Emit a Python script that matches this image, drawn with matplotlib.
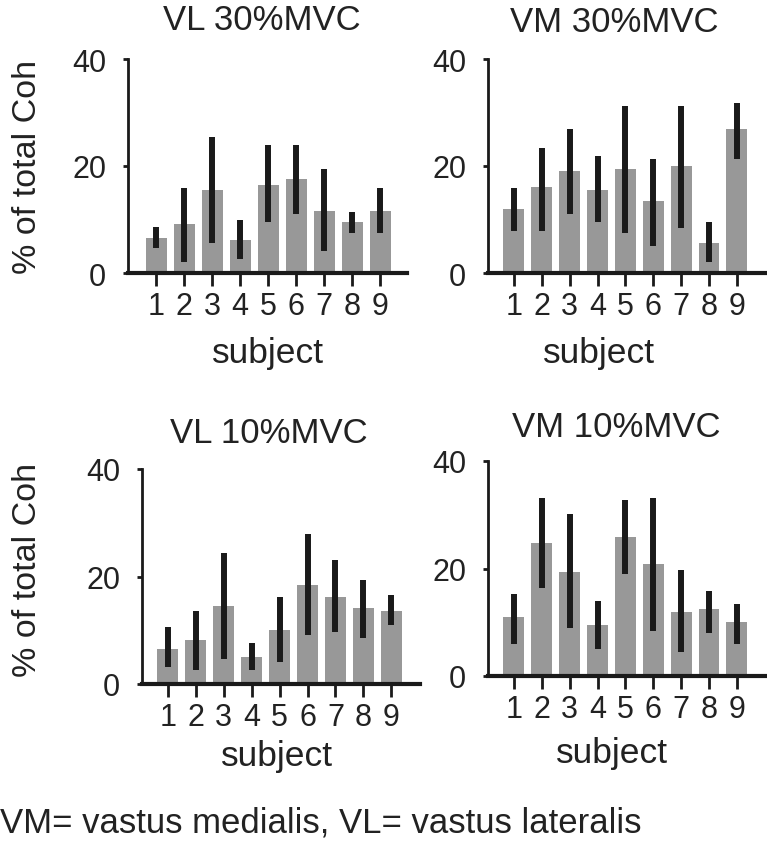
import numpy as np
import matplotlib.pyplot as plt

plt.rcParams['font.family'] = ['Liberation Sans', 'DejaVu Sans']

subjects = [1, 2, 3, 4, 5, 6, 7, 8, 9]

# bar heights and error bar ends (lo, hi)
vl30_mean = [6.6, 9.1, 15.5, 6.1, 16.5, 17.5, 11.5, 9.5, 11.5]
vl30_lo = [4.6, 2.1, 5.6, 2.6, 9.5, 11.1, 4.1, 7.5, 7.5]
vl30_hi = [8.6, 15.9, 25.4, 10.0, 23.9, 23.9, 19.4, 11.4, 15.9]

vm30_mean = [12.0, 16.0, 19.0, 15.5, 19.5, 13.5, 20.0, 5.6, 26.9]
vm30_lo = [7.9, 7.9, 11.1, 9.5, 7.5, 5.1, 8.5, 2.0, 21.4]
vm30_hi = [15.9, 23.4, 26.9, 21.9, 31.3, 21.4, 31.3, 9.5, 31.8]

vl10_mean = [6.6, 8.1, 14.6, 5.1, 10.1, 18.5, 16.1, 14.1, 13.6]
vl10_lo = [3.1, 2.6, 4.6, 2.6, 4.1, 9.1, 9.6, 8.6, 11.0]
vl10_hi = [10.6, 13.5, 24.4, 7.6, 16.1, 27.9, 23.0, 19.4, 16.5]

vm10_mean = [11.0, 24.8, 19.3, 9.5, 25.8, 20.8, 11.9, 12.4, 10.0]
vm10_lo = [6.0, 16.3, 9.0, 5.0, 18.9, 8.4, 4.5, 8.0, 6.0]
vm10_hi = [15.3, 33.1, 30.2, 13.9, 32.7, 33.1, 19.8, 15.9, 13.4]

W, H = 767, 853
TXT = '#222222'
fig = plt.figure(figsize=(W / 100, H / 100), dpi=100)


def px_axes(left, right, top, bottom):
    return fig.add_axes([left / W, 1 - bottom / H, (right - left) / W, (bottom - top) / H])


def px_text(x, y, s, **kw):
    return fig.text(x / W, 1 - y / H, s, color=TXT, **kw)


def panel(ax, mean, lo, hi, xlim):
    ax.bar(subjects, mean, width=0.75, color='#989898', zorder=1)
    ax.vlines(subjects, lo, hi, color='#1a1a1a', lw=4.3, zorder=2, capstyle='butt')
    ax.set_xlim(*xlim)
    ax.set_ylim(0, 40)
    ax.set_yticks([0, 20, 40])
    ax.set_xticks(subjects)
    for s in ['top', 'right']:
        ax.spines[s].set_visible(False)
    ax.spines['left'].set_linewidth(2)
    ax.spines['bottom'].set_linewidth(3)
    ax.spines['left'].set_color('#1a1a1a')
    ax.spines['bottom'].set_color('#1a1a1a')
    ax.tick_params(axis='x', direction='out', length=9, width=2, labelsize=22,
                   pad=4, color='#1a1a1a', labelcolor=TXT)
    ax.tick_params(axis='y', direction='out', length=3.6, width=2, labelsize=22,
                   pad=12, color='#1a1a1a', labelcolor=TXT)


ax1 = px_axes(128, 407, 60, 274)
panel(ax1, vl30_mean, vl30_lo, vl30_hi, (0, 9.96))

ax2 = px_axes(488, 767, 60, 274)
panel(ax2, vm30_mean, vm30_lo, vm30_hi, (0.07, 10.08))

ax3 = px_axes(142, 420, 470, 685)
panel(ax3, vl10_mean, vl10_lo, vl10_hi, (0.07, 10.03))

ax4 = px_axes(488, 767, 462, 677)
panel(ax4, vm10_mean, vm10_lo, vm10_hi, (0.07, 10.08))

# titles
px_text(262, 30, 'VL 30%MVC', fontsize=25, ha='center', va='baseline')
px_text(614, 32, 'VM 30%MVC', fontsize=25, ha='center', va='baseline')
px_text(269, 443, 'VL 10%MVC', fontsize=25, ha='center', va='baseline')
px_text(616, 437, 'VM 10%MVC', fontsize=25, ha='center', va='baseline')

# x labels
px_text(268, 363, 'subject', fontsize=25.5, ha='center', va='baseline')
px_text(599, 363, 'subject', fontsize=25.5, ha='center', va='baseline')
px_text(277, 766, 'subject', fontsize=25.5, ha='center', va='baseline')
px_text(612, 763, 'subject', fontsize=25.5, ha='center', va='baseline')

# y labels
px_text(28, 167, '% of total Coh', fontsize=24.5, rotation=90, ha='center', va='center')
px_text(28, 570, '% of total Coh', fontsize=24.5, rotation=90, ha='center', va='center')

px_text(0, 833, 'VM= vastus medialis, VL= vastus lateralis',
        fontsize=25, ha='left', va='baseline')

fig.savefig('out.png', dpi=100)
